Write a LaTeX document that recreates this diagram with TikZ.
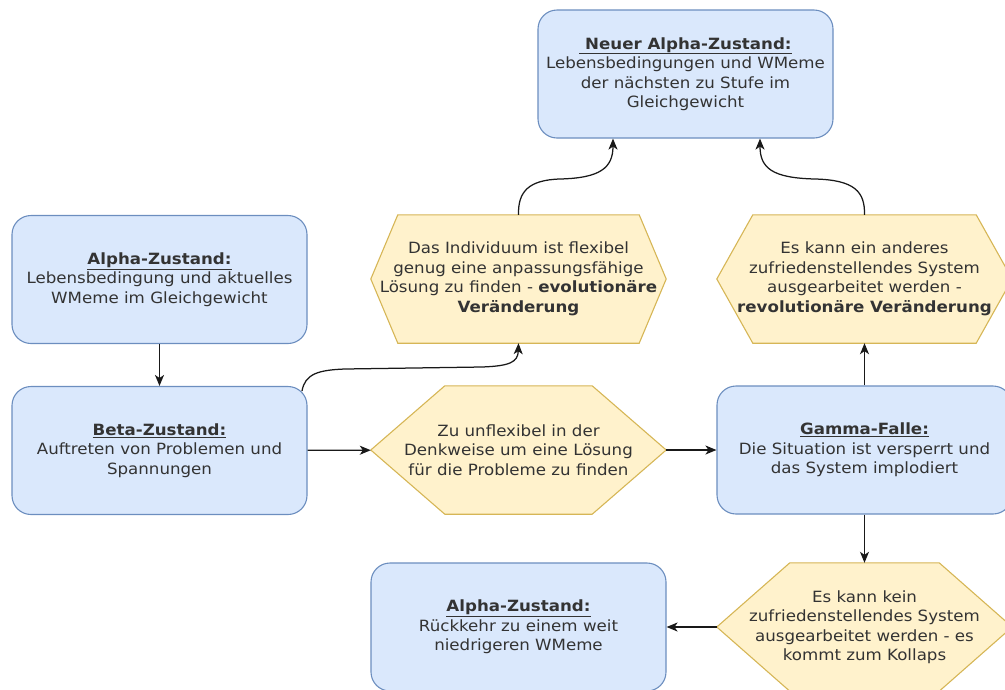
\documentclass[tikz,border=0pt]{standalone}
\usepackage{fontspec}
\setmainfont[FakeStretch=1.075]{DejaVu Sans}
\usetikzlibrary{arrows.meta,backgrounds}

\definecolor{bluefill}{HTML}{DAE8FC}
\definecolor{blueline}{HTML}{6C8EBF}
\definecolor{yelfill}{HTML}{FFF2CC}
\definecolor{yelline}{HTML}{D6B656}
\definecolor{txt}{HTML}{333333}

\tikzset{
  labeltext/.style={align=center, text=txt, inner sep=0pt,
    font=\fontsize{15.5}{19.5}\selectfont},
  statebox/.style={labeltext, draw=blueline, fill=bluefill, line width=1.1pt,
    rounded corners=19pt, minimum width=295pt, minimum height=128pt},
  hexbox/.style={labeltext, minimum width=295pt, minimum height=128pt},
  hexline/.style={draw=yelline, fill=yelfill, line width=1.1pt},
  link/.style={draw=black!90, line width=1.25pt,
    -{Stealth[length=11pt,width=9pt,inset=3pt]}}
}

% hexagon outline around a named node: #1 node, #2 horizontal indent of the points
\newcommand\hexoutline[2]{%
  \path[hexline] ([xshift=#2]#1.north west) -- ([xshift=-#2]#1.north east)
    -- (#1.east) -- ([xshift=-#2]#1.south east) -- ([xshift=#2]#1.south west)
    -- (#1.west) -- cycle;}

\newcommand\heading[1]{\underline{\textbf{#1}}}

\begin{document}
\begin{tikzpicture}[x=1pt,y=-1pt]
  \useasboundingbox (0,0) rectangle (1005,689);

  % states
  \node[statebox] (NA) at (685.5,74)
    {\heading{\ Neuer Alpha-Zustand:}\\ Lebensbedingungen und WMeme\\ der nächsten zu Stufe im\\ Gleichgewicht};
  \node[statebox] (A1) at (159.5,279.5)
    {\heading{Alpha-Zustand:}\\ Lebensbedingung und aktuelles\\ WMeme im Gleichgewicht};
  \node[statebox] (B) at (159.5,450.5)
    {\heading{Beta-Zustand:}\\ Auftreten von Problemen und\\ Spannungen};
  \node[statebox] (G) at (864.5,450)
    {\heading{Gamma-Falle:}\\ Die Situation ist versperrt und\\ das System implodiert};
  \node[statebox] (A2) at (518.5,627)
    {\heading{Alpha-Zustand:}\\ Rückkehr zu einem weit\\ niedrigeren WMeme};

  % outcomes (hexagons)
  \node[hexbox] (H1) at (518.5,279)
    {Das Individuum ist flexibel\\ genug eine anpassungsfähige\\ Lösung zu finden - \textbf{evolutionäre}\\ \textbf{Veränderung}};
  \node[hexbox] (H2) at (864.5,279)
    {Es kann ein anderes\\ zufriedenstellendes System\\ ausgearbeitet werden -\\ \textbf{revolutionäre Veränderung}};
  \node[hexbox] (H3) at (518.5,450)
    {Zu unflexibel in der\\ Denkweise um eine Lösung\\ für die Probleme zu finden};
  \node[hexbox] (H4) at (864.5,627)
    {Es kann kein\\ zufriedenstellendes System\\ ausgearbeitet werden - es\\ kommt zum Kollaps};

  \begin{scope}[on background layer]
    \hexoutline{H1}{27pt}
    \hexoutline{H2}{36pt}
    \hexoutline{H3}{74pt}
    \hexoutline{H4}{73pt}
  \end{scope}

  % straight connectors
  \draw[link] (A1) -- (B);
  \draw[link] (B) -- (H3);
  \draw[link] (H3) -- (G);
  \draw[link] (G) -- (H2);
  \draw[link] (G) -- (H4);
  \draw[link] (H4) -- (A2);

  % curved connectors
  \coordinate (bstart) at (302,391);
  \draw[link] (bstart) .. controls (305,374) and (318,370) .. (345,369)
    -- (482,367) .. controls (510,366) and (518,362) .. (H1.south);
  \draw[link] (H1.north) .. controls (518,192) and (528,180) .. (560,179)
    .. controls (600,178) and (613,168) .. ([xshift=-72.5pt]NA.south);
  \draw[link] (H2.north) .. controls (865,192) and (855,180) .. (815,179)
    .. controls (772,178) and (760,168) .. ([xshift=74.5pt]NA.south);
\end{tikzpicture}
\end{document}
